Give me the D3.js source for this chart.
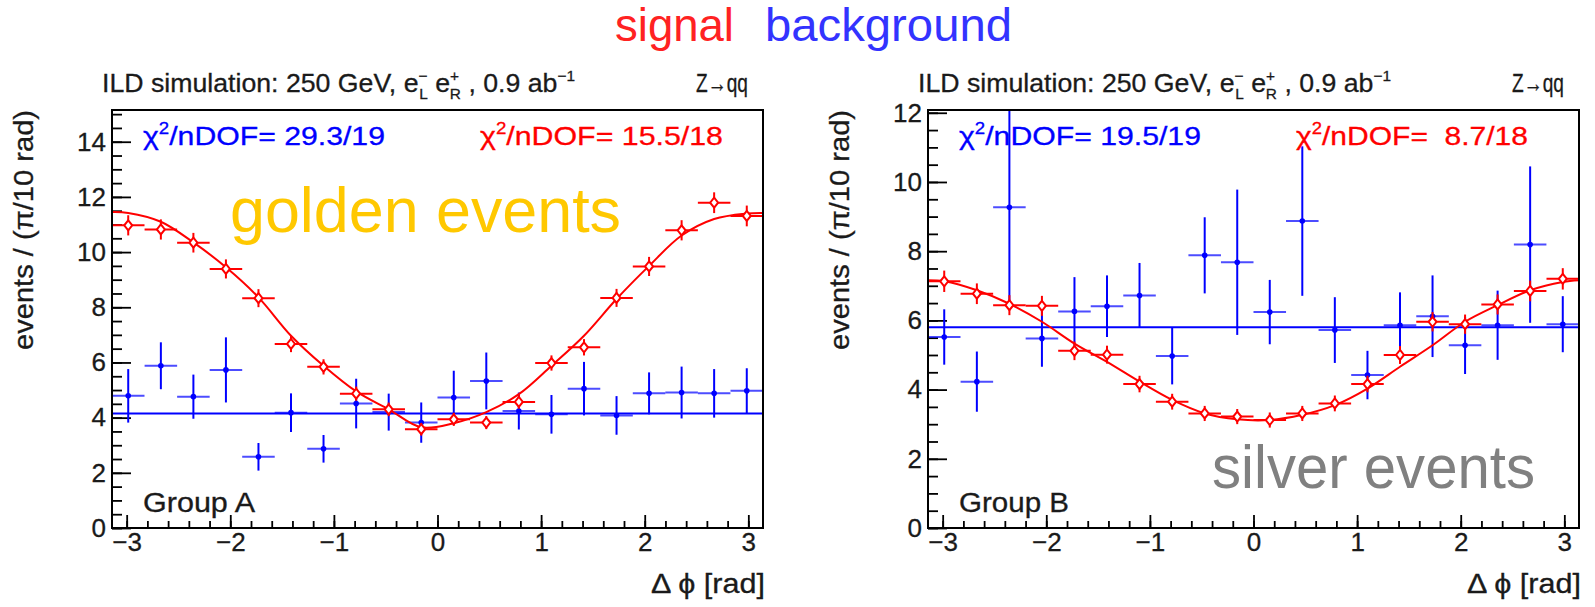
<!DOCTYPE html>
<html>
<head>
<meta charset="utf-8">
<script src="https://cdn.jsdelivr.net/npm/d3@7.9.0/dist/d3.min.js"></script>
<style>
  body { margin: 0; background: #fff; }
  svg { display: block; font-family: "Liberation Sans", Arial, Helvetica, sans-serif; }
  text { white-space: pre; }
  .root { stroke-width: 0.3px; }
</style>
</head>
<body>
<svg id="chart" width="1595" height="607"></svg>
<script>
const PI = Math.PI;

// bins of pi/10 over [-pi, pi]
const binCenters = [-2.985, -2.670, -2.356, -2.042, -1.728, -1.414, -1.100, -0.785, -0.471, -0.157,
                     0.157,  0.471,  0.785,  1.100,  1.414,  1.728,  2.042,  2.356,  2.670,  2.985];
const binWidth = PI / 10;
const fitX = [-PI, ...binCenters, PI];

// Group A (golden events)
const sigA    = [10.97, 10.82, 10.34, 9.39, 8.33, 6.67, 5.84, 4.87, 4.30, 3.58, 3.94, 3.82, 4.57, 5.98, 6.55, 8.34, 9.48, 10.79, 11.79, 11.31];
const sigAErr = [0.33, 0.33, 0.32, 0.31, 0.29, 0.26, 0.24, 0.22, 0.21, 0.19, 0.20, 0.20, 0.21, 0.24, 0.26, 0.29, 0.31, 0.33, 0.34, 0.34];
const bkgA    = [4.79, 5.88, 4.76, 5.73, 2.58, 4.18, 2.87, 4.51, 4.20, 3.82, 4.73, 5.33, 4.24, 4.12, 5.05, 4.08, 4.88, 4.91, 4.88, 4.97];
const bkgAErr = [0.97, 0.85, 0.80, 1.18, 0.50, 0.70, 0.50, 0.90, 0.67, 0.73, 0.97, 1.03, 0.67, 0.70, 0.97, 0.70, 0.76, 0.94, 0.88, 0.82];
const sigFitA = [11.45, 11.42, 11.1, 10.35, 9.45, 8.36, 6.97, 5.88, 4.95, 4.3, 3.65, 3.8, 4.2, 4.85, 5.88, 6.97, 8.3, 9.5, 10.6, 11.2, 11.4, 11.42];
const bkgFitA = 4.15;

// Group B (silver events)
const sigB    = [7.13, 6.77, 6.44, 6.42, 5.12, 5.01, 4.16, 3.65, 3.31, 3.22, 3.12, 3.31, 3.60, 4.16, 5.00, 5.96, 5.89, 6.46, 6.85, 7.20];
const sigBErr = [0.28, 0.27, 0.26, 0.26, 0.24, 0.23, 0.21, 0.20, 0.19, 0.19, 0.19, 0.19, 0.20, 0.21, 0.23, 0.25, 0.25, 0.26, 0.27, 0.28];
const bkgB    = [5.52, 4.23, 9.27, 5.48, 6.26, 6.41, 6.72, 4.97, 7.88, 7.68, 6.24, 8.87, 5.72, 4.42, 5.86, 6.12, 5.28, 5.86, 8.19, 5.89];
const bkgBErr = [0.80, 0.87, 2.83, 0.82, 0.99, 0.89, 0.94, 0.82, 1.10, 2.10, 0.93, 2.16, 0.95, 0.70, 0.95, 1.18, 0.83, 1.00, 2.26, 0.81];
const sigFitB = [7.16, 7.13, 6.87, 6.48, 5.96, 5.33, 4.8, 4.23, 3.7, 3.31, 3.14, 3.12, 3.27, 3.55, 4.03, 4.66, 5.28, 5.96, 6.44, 6.87, 7.11, 7.16];
const bkgFitB = 5.8;

const xTicks = [-3, -2, -1, 0, 1, 2, 3];
const chi2Labels = { A: ['29.3/19', '15.5/18'], B: ['19.5/19', ' 8.7/18'] };

const RED = '#ff0000';
const BLUE = '#0000ff';
const INK = '#1a1a1a';
const svg = d3.select('#chart');
svg.append('rect').attr('width', 1595).attr('height', 607).attr('fill', '#fff');

// header
svg.append('text').attr('x', 615).attr('y', 41).attr('font-size', 46).attr('fill', '#f22')
  .attr('textLength', 119).attr('lengthAdjust', 'spacingAndGlyphs').text('signal');
svg.append('text').attr('x', 765).attr('y', 41).attr('font-size', 46).attr('fill', '#33f')
  .attr('textLength', 247).attr('lengthAdjust', 'spacingAndGlyphs').text('background');

function fitText(sel, w) {
  return sel.attr('textLength', w).attr('lengthAdjust', 'spacingAndGlyphs');
}

function drawPanel(p) {
  const top = 110, bottom = 528;
  const x = d3.scaleLinear().domain([-PI, PI]).range([p.left, p.left + 651]);
  const y = d3.scaleLinear().domain([0, p.ymax]).range([bottom, top]);
  const g = svg.append('g');

  g.append('clipPath').attr('id', 'clip' + p.id)
    .append('rect').attr('x', x(-PI)).attr('y', top).attr('width', 651).attr('height', bottom - top);

  // y axis (ticks inside the frame)
  g.append('g').attr('transform', `translate(${p.left},0)`)
    .call(d3.axisLeft(y).tickValues(d3.range(0, p.ymax, 0.5)).tickSize(-10).tickFormat(''))
    .call(a => a.select('.domain').remove());
  g.append('g').attr('transform', `translate(${p.left},0)`)
    .call(d3.axisLeft(y).tickValues(d3.range(0, p.ymax, 2)).tickSize(-19).tickPadding(6).tickFormat(d3.format('d')))
    .call(a => a.select('.domain').remove())
    .attr('font-size', 26).attr('font-family', null);

  // x axis
  g.append('g').attr('transform', `translate(0,${bottom})`)
    .call(d3.axisBottom(x).tickValues(d3.range(-30, 31, 2).map(d => d / 10)).tickSize(-7).tickFormat(''))
    .call(a => a.select('.domain').remove());
  g.append('g').attr('transform', `translate(0,${bottom})`)
    .call(d3.axisBottom(x).tickValues(xTicks).tickSize(-13).tickPadding(5).tickFormat(d3.format('d')))
    .call(a => a.select('.domain').remove())
    .attr('font-size', 26).attr('font-family', null);
  g.selectAll('.tick line').attr('stroke', '#000').attr('stroke-width', 1.8);
  g.selectAll('.tick text').attr('fill', INK).attr('stroke', INK).attr('class', 'root');

  const plot = g.append('g').attr('clip-path', `url(#clip${p.id})`);

  // background: flat fit + points
  plot.append('line')
    .attr('x1', x(-PI)).attr('x2', x(PI))
    .attr('y1', y(p.bkgFit)).attr('y2', y(p.bkgFit))
    .attr('stroke', BLUE).attr('stroke-width', 2);
  const bk = plot.append('g').selectAll('g').data(binCenters.map((c, i) => ({ c, v: p.bkg[i], e: p.bkgErr[i] })))
    .join('g');
  bk.append('line')
    .attr('x1', d => x(d.c)).attr('x2', d => x(d.c))
    .attr('y1', d => y(d.v - d.e)).attr('y2', d => y(d.v + d.e))
    .attr('stroke', BLUE).attr('stroke-width', 2);
  bk.append('line')
    .attr('x1', d => x(d.c - binWidth / 2)).attr('x2', d => x(d.c + binWidth / 2))
    .attr('y1', d => y(d.v)).attr('y2', d => y(d.v))
    .attr('stroke', BLUE).attr('stroke-width', 2).attr('stroke-opacity', 0.7);
  bk.append('circle')
    .attr('cx', d => x(d.c)).attr('cy', d => y(d.v)).attr('r', 2.8)
    .attr('fill', BLUE);

  // signal: fit curve + points
  plot.append('path')
    .datum(fitX.map((fx, i) => [fx, p.sigFit[i]]))
    .attr('d', d3.line().x(d => x(d[0])).y(d => y(d[1])).curve(d3.curveCatmullRom))
    .attr('fill', 'none').attr('stroke', RED).attr('stroke-width', 2);
  const sg = plot.append('g').selectAll('g').data(binCenters.map((c, i) => ({ c, v: p.sig[i], e: p.sigErr[i] })))
    .join('g');
  sg.append('line')
    .attr('x1', d => x(d.c)).attr('x2', d => x(d.c))
    .attr('y1', d => y(d.v - d.e) + 1).attr('y2', d => y(d.v + d.e) - 1)
    .attr('stroke', RED).attr('stroke-width', 2);
  sg.append('line')
    .attr('x1', d => x(d.c - binWidth / 2)).attr('x2', d => x(d.c + binWidth / 2))
    .attr('y1', d => y(d.v)).attr('y2', d => y(d.v))
    .attr('stroke', RED).attr('stroke-width', 2);
  sg.append('path')
    .attr('d', d => {
      const cx = x(d.c), cy = y(d.v);
      return `M${cx},${cy - 5}L${cx + 4},${cy}L${cx},${cy + 5}L${cx - 4},${cy}Z`;
    })
    .attr('fill', '#fff').attr('stroke', RED).attr('stroke-width', 2);

  // frame
  g.append('rect')
    .attr('x', x(-PI)).attr('y', top).attr('width', 651).attr('height', bottom - top)
    .attr('fill', 'none').attr('stroke', '#000').attr('stroke-width', 2);

  // titles
  const t = g.append('text').attr('x', p.left - 10).attr('y', 92).attr('font-size', 26)
    .attr('fill', INK).attr('stroke', INK).attr('class', 'root');
  t.append('tspan').text('ILD simulation: 250 GeV, e');
  t.append('tspan').attr('font-size', 15).attr('dy', -11).text('\u2212');
  t.append('tspan').attr('font-size', 15).attr('dx', -8).attr('dy', 18).text('L');
  t.append('tspan').attr('dy', -7).text(' e');
  t.append('tspan').attr('font-size', 15).attr('dy', -11).text('+');
  t.append('tspan').attr('font-size', 15).attr('dx', -9).attr('dy', 18).text('R');
  t.append('tspan').attr('dy', -7).text(' , 0.9 ab');
  t.append('tspan').attr('font-size', 15).attr('dy', -11).text('\u22121');
  fitText(t, 473);
  fitText(g.append('text').attr('x', p.left + 636).attr('y', 92).attr('text-anchor', 'end')
    .attr('font-size', 25).attr('fill', INK).attr('stroke', INK).attr('class', 'root')
    .text('Z\u2192qq'), 52);

  const chi = (tx, color, val, w) => {
    const c = g.append('text').attr('x', tx).attr('y', 145).attr('font-size', 26)
      .attr('fill', color).attr('stroke', color).attr('class', 'root');
    c.append('tspan').text('\u03c7');
    c.append('tspan').attr('font-size', 16).attr('dy', -11).text('2');
    c.append('tspan').attr('dy', 11).text('/nDOF= ' + val);
    fitText(c, w);
  };
  chi(p.left + 31, BLUE, p.chi2[0], p.chiW[0]);
  chi(p.left + 368, RED, p.chi2[1], p.chiW[1]);

  fitText(g.append('text').attr('x', p.left + 31).attr('y', 512).attr('font-size', 27)
    .attr('fill', INK).attr('stroke', INK).attr('class', 'root').text(p.group), p.groupW);

  fitText(g.append('text').attr('x', p.left + 653).attr('y', 593).attr('text-anchor', 'end')
    .attr('font-size', 28).attr('fill', INK).attr('stroke', INK).attr('class', 'root')
    .text('\u0394 \u03d5 [rad]'), 114);
  fitText(g.append('text').attr('transform', `translate(${p.left - 79},${top}) rotate(-90)`)
    .attr('text-anchor', 'end').attr('font-size', 28)
    .attr('fill', INK).attr('stroke', INK).attr('class', 'root')
    .text('events / (\u03c0/10 rad)'), 240);

  fitText(g.append('text').attr('x', p.label.x).attr('y', p.label.y).attr('font-size', p.label.size)
    .attr('fill', p.label.color).text(p.label.text), p.label.w);
}

drawPanel({
  id: 'A', left: 112, ymax: 15.15,
  sig: sigA, sigErr: sigAErr, bkg: bkgA, bkgErr: bkgAErr, sigFit: sigFitA, bkgFit: bkgFitA,
  chi2: chi2Labels.A, chiW: [242, 243], group: 'Group A', groupW: 112,
  label: { text: 'golden events', x: 230, y: 232, size: 63, color: '#ffc800', w: 391 }
});
drawPanel({
  id: 'B', left: 928, ymax: 12.08,
  sig: sigB, sigErr: sigBErr, bkg: bkgB, bkgErr: bkgBErr, sigFit: sigFitB, bkgFit: bkgFitB,
  chi2: chi2Labels.B, chiW: [242, 232], group: 'Group B', groupW: 110,
  label: { text: 'silver events', x: 1212, y: 488, size: 62, color: '#808080', w: 323 }
});
</script>
</body>
</html>
